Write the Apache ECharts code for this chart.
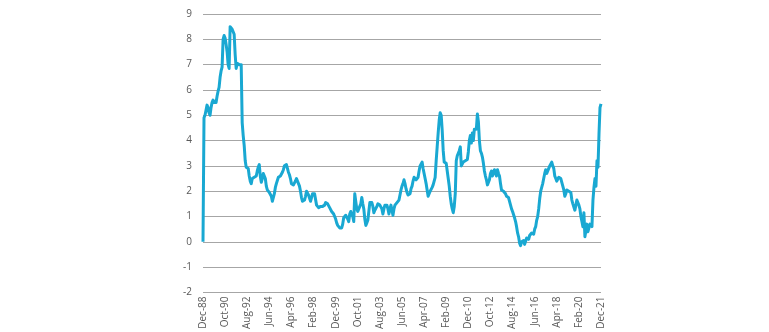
<!DOCTYPE html>
<html>
<head>
<meta charset="utf-8">
<script src="https://cdn.jsdelivr.net/npm/echarts@6/dist/echarts.min.js"></script>
<style>html,body{margin:0;padding:0;background:#fff}#c{width:769px;height:332px}</style>
</head>
<body>
<div id="c"></div>
<script>
// Monthly values, Dec-88 then Jan..Dec of each year 1989-2021
const v1988 = [0];
const v1989 = [4.9, 5.0, 5.2, 5.4, 5.3, 5.1, 5.0, 5.3, 5.5, 5.6, 5.5, 5.55];
const v1990 = [5.5, 5.75, 5.95, 6.1, 6.5, 6.75, 6.9, 8.0, 8.15, 8.05, 7.8, 7.5];
const v1991 = [7.0, 6.85, 8.5, 8.45, 8.4, 8.35, 8.2, 7.4, 6.85, 7.05, 7.1, 7.0];
const v1992 = [7.05, 7.0, 4.7, 4.2, 3.8, 3.2, 2.95, 2.9, 2.9, 2.6, 2.4, 2.3];
const v1993 = [2.5, 2.55, 2.55, 2.5, 2.6, 2.8, 2.95, 3.05, 2.6, 2.35, 2.5, 2.7];
const v1994 = [2.7, 2.5, 2.2, 2.05, 2.0, 1.95, 2.0, 1.8, 1.6, 1.55, 1.9, 2.15];
const v1995 = [2.3, 2.35, 2.55, 2.5, 2.6, 2.55, 2.75, 2.85, 3.0, 3.0, 3.05, 2.9];
const v1996 = [2.75, 2.65, 2.5, 2.3, 2.25, 2.25, 2.3, 2.4, 2.5, 2.45, 2.3, 2.2];
const v1997 = [2.0, 1.75, 1.6, 1.6, 1.65, 1.8, 2.0, 1.95, 1.85, 1.8, 1.6, 1.75];
const v1998 = [1.9, 1.95, 1.9, 1.85, 1.45, 1.4, 1.35, 1.35, 1.4, 1.4, 1.4, 1.45];
const v1999 = [1.45, 1.55, 1.6, 1.5, 1.45, 1.35, 1.3, 1.2, 1.15, 1.1, 1.0, 0.9];
const v2000 = [0.75, 0.65, 0.6, 0.55, 0.6, 0.55, 0.7, 0.95, 1.0, 1.05, 1.05, 0.9];
const v2001 = [0.8, 1.1, 1.2, 1.25, 1.0, 0.8, 1.9, 1.6, 1.3, 1.2, 1.15, 1.4];
const v2002 = [1.5, 1.75, 1.5, 1.3, 0.9, 0.65, 0.75, 0.85, 1.2, 1.55, 1.55, 1.55];
const v2003 = [1.4, 1.15, 1.25, 1.3, 1.4, 1.5, 1.5, 1.45, 1.45, 1.3, 1.1, 1.3];
const v2004 = [1.45, 1.45, 1.45, 1.3, 1.1, 1.3, 1.45, 1.25, 1.05, 1.3, 1.45, 1.5];
const v2005 = [1.55, 1.6, 1.65, 1.85, 2.05, 2.2, 2.3, 2.45, 2.3, 2.1, 1.95, 1.85];
const v2006 = [1.85, 1.9, 2.1, 2.2, 2.4, 2.55, 2.5, 2.45, 2.5, 2.55, 2.8, 3.0];
const v2007 = [3.05, 3.15, 2.9, 2.7, 2.5, 2.3, 2.05, 1.8, 1.9, 2.0, 2.05, 2.15];
const v2008 = [2.25, 2.4, 2.55, 3.2, 3.75, 4.3, 4.8, 5.1, 5.0, 4.4, 3.6, 3.15];
const v2009 = [3.1, 3.1, 2.8, 2.5, 2.2, 1.8, 1.5, 1.3, 1.15, 1.4, 1.9, 3.2];
const v2010 = [3.4, 3.5, 3.6, 3.75, 3.0, 3.05, 3.15, 3.15, 3.2, 3.2, 3.25, 3.55];
const v2011 = [4.0, 4.2, 3.9, 4.3, 4.0, 4.45, 4.4, 4.45, 5.05, 4.75, 4.0, 3.6];
const v2012 = [3.5, 3.35, 3.1, 2.8, 2.6, 2.45, 2.25, 2.3, 2.45, 2.7, 2.8, 2.6];
const v2013 = [2.7, 2.85, 2.75, 2.6, 2.85, 2.7, 2.6, 2.3, 2.05, 2.05, 2.0, 2.0];
const v2014 = [1.9, 1.8, 1.8, 1.75, 1.6, 1.45, 1.3, 1.2, 1.15, 0.95, 0.8, 0.6];
const v2015 = [0.35, 0.2, -0.05, -0.15, 0.0, 0.0, 0.05, -0.1, -0.1, 0.15, 0.1, 0.1];
const v2016 = [0.25, 0.3, 0.35, 0.4, 0.3, 0.5, 0.6, 0.85, 1.0, 1.3, 1.7, 2.0];
const v2017 = [2.15, 2.3, 2.5, 2.7, 2.85, 2.7, 2.65, 2.9, 3.0, 3.05, 3.15, 3.0];
const v2018 = [2.9, 2.6, 2.5, 2.4, 2.45, 2.55, 2.5, 2.5, 2.35, 2.2, 2.05, 1.8];
const v2019 = [1.9, 2.05, 2.0, 2.0, 2.0, 1.95, 1.65, 1.5, 1.45, 1.25, 1.45, 1.65];
const v2020 = [1.55, 1.45, 1.3, 1.0, 0.8, 0.6, 1.15, 0.2, 0.45, 0.7, 0.4, 0.55];
const v2021 = [0.7, 0.65, 0.6, 1.65, 2.15, 2.5, 2.2, 3.2, 2.95, 4.25, 5.3, 5.45];

const monthNames = ['Jan','Feb','Mar','Apr','May','Jun','Jul','Aug','Sep','Oct','Nov','Dec'];
const tickLabels = ['Dec-88','Oct-90','Aug-92','Jun-94','Apr-96','Feb-98','Dec-99','Oct-01','Aug-03','Jun-05','Apr-07','Feb-09','Dec-10','Oct-12','Aug-14','Jun-16','Apr-18','Feb-20','Dec-21'];
const yMin = -2, yMax = 9, yStep = 1;

const values = [].concat(v1988, v1989, v1990, v1991, v1992, v1993, v1994, v1995, v1996, v1997,
  v1998, v1999, v2000, v2001, v2002, v2003, v2004, v2005, v2006, v2007, v2008, v2009, v2010,
  v2011, v2012, v2013, v2014, v2015, v2016, v2017, v2018, v2019, v2020, v2021);

const categories = ['Dec-88'];
for (let y = 1989; y <= 2021; y++) {
  for (let m = 0; m < 12; m++) categories.push(monthNames[m] + '-' + String(y % 100).padStart(2, '0'));
}

const chart = echarts.init(document.getElementById('c'), null, {renderer: 'canvas'});
chart.setOption({
  animation: false,
  grid: {left: 203, right: 168, top: 14, bottom: 39, containLabel: false},
  xAxis: {
    type: 'category',
    data: categories,
    boundaryGap: false,
    axisLine: {show: false, onZero: false},
    axisTick: {show: false},
    axisLabel: {
      interval: 21,
      rotate: 90,
      margin: 4,
      color: '#595959',
      fontSize: 10,
      fontFamily: 'Open Sans, sans-serif',
      formatter: function (val) { return tickLabels.indexOf(val) >= 0 ? val : ''; }
    },
    splitLine: {show: false}
  },
  yAxis: {
    type: 'value',
    min: yMin, max: yMax, interval: yStep,
    axisLine: {show: false},
    axisTick: {show: false},
    axisLabel: {color: '#595959', fontSize: 10, margin: 11, fontFamily: 'Open Sans, sans-serif'},
    splitLine: {lineStyle: {color: '#a6a6a6', width: 1}}
  },
  series: [{
    type: 'line',
    data: values,
    showSymbol: false,
    symbol: 'none',
    lineStyle: {color: '#19a8d2', width: 3, join: 'round'},
    itemStyle: {color: '#19a8d2'}
  }]
});
</script>
</body>
</html>
